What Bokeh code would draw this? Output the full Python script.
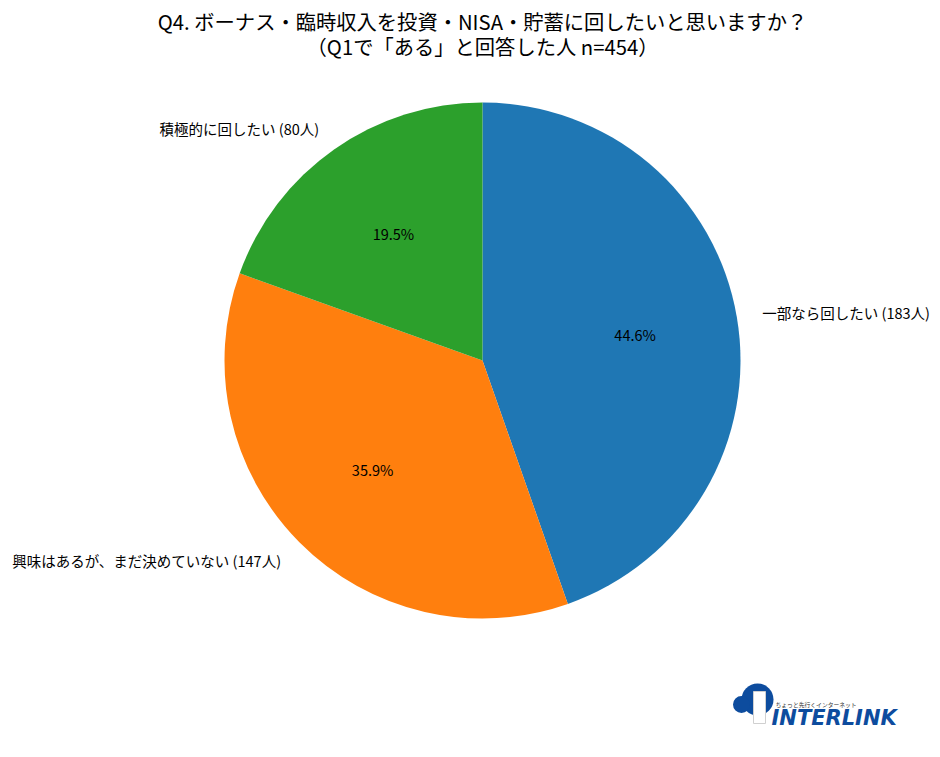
import math
from bokeh.plotting import figure
from bokeh.models import Range1d, ColumnDataSource
from bokeh.core.properties import value
from bokeh.embed import file_html
from bokeh.resources import INLINE

# ---- data ----
labels = ["一部なら回したい (183人)", "興味はあるが、まだ決めていない (147人)", "積極的に回したい (80人)"]
counts = [183, 147, 80]
colors = ["#1f77b4", "#ff7f0e", "#2ca02c"]
title_lines = ["Q4. ボーナス・臨時収入を投資・NISA・貯蓄に回したいと思いますか？",
               "（Q1で「ある」と回答した人 n=454）"]

W, H = 934, 750
FONT = "Noto Sans CJK JP"

def sx(x):
    return x

def sy(y):
    return H - y

p = figure(width=W, height=H, output_backend="svg", toolbar_location=None,
           x_range=Range1d(0, W), y_range=Range1d(0, H), min_border=0)
p.axis.visible = False
p.grid.visible = False
p.outline_line_color = None
p.background_fill_color = "white"
p.border_fill_color = "white"

cx, cy, r = sx(482), sy(360), 258
total = sum(counts)
start_deg = 90.0
cum = 0.0
starts, ends, pct_x, pct_y, pct_t = [], [], [], [], []
lab_x, lab_y, lab_align = [], [], []
for c in counts:
    frac = c / total
    a0 = start_deg - 360 * cum
    a1 = start_deg - 360 * (cum + frac)
    starts.append(math.radians(a1))
    ends.append(math.radians(a0))
    mid = math.radians((a0 + a1) / 2)
    pct_x.append(cx + 0.6 * r * math.cos(mid))
    pct_y.append(cy + 0.6 * r * math.sin(mid))
    pct_t.append(f"{frac*100:.1f}%")
    lx = cx + 1.1 * r * math.cos(mid)
    ly = cy + 1.1 * r * math.sin(mid)
    lab_x.append(lx)
    lab_y.append(ly)
    lab_align.append("left" if math.cos(mid) > 0 else "right")
    cum += frac

src = ColumnDataSource(dict(start=starts, end=ends, color=colors))
p.wedge(x=cx, y=cy, radius=r, start_angle="start", end_angle="end",
        fill_color="color", line_color=None, source=src)

p.text(x=pct_x, y=pct_y, text=pct_t, text_align="center", text_baseline="middle",
       text_font=value(FONT), text_font_size="14.5px", text_color="black")

lsrc = ColumnDataSource(dict(x=lab_x, y=lab_y, t=labels, a=lab_align))
p.text(x="x", y="y", text="t", text_align="a", text_baseline="middle",
       text_font=value(FONT), text_font_size="14.5px", text_color="black", source=lsrc)

# title
p.text(x=[sx(482), sx(482)], y=[sy(20), sy(45)], text=title_lines,
       text_align="center", text_baseline="middle",
       text_font=value(FONT), text_font_size="20.3px", text_color="black")

# logo (approximation)
p.circle(x=[sx(757)], y=[sy(699)], radius=16, fill_color="#0d4c9e", line_color=None)
p.circle(x=[sx(741)], y=[sy(704)], radius=8.5, fill_color="#0d4c9e", line_color=None)
p.quad(left=[sx(753)], right=[sx(765)], top=[sy(691)], bottom=[sy(723)],
       fill_color="white", line_color="#d0d0d0")
p.text(x=[sx(775)], y=[sy(704)], text=["ちょっと先行くインターネット"],
       text_align="left", text_baseline="middle", text_font=value(FONT),
       text_font_size="5.8px", text_color="#333333")
p.text(x=[sx(771)], y=[sy(717)], text=["INTERLINK"],
       text_align="left", text_baseline="middle", text_font=value("DejaVu Sans"),
       text_font_size="21px", text_font_style="bold italic", text_color="#0d4c9e")

open("out.html", "w").write(file_html(p, INLINE))
